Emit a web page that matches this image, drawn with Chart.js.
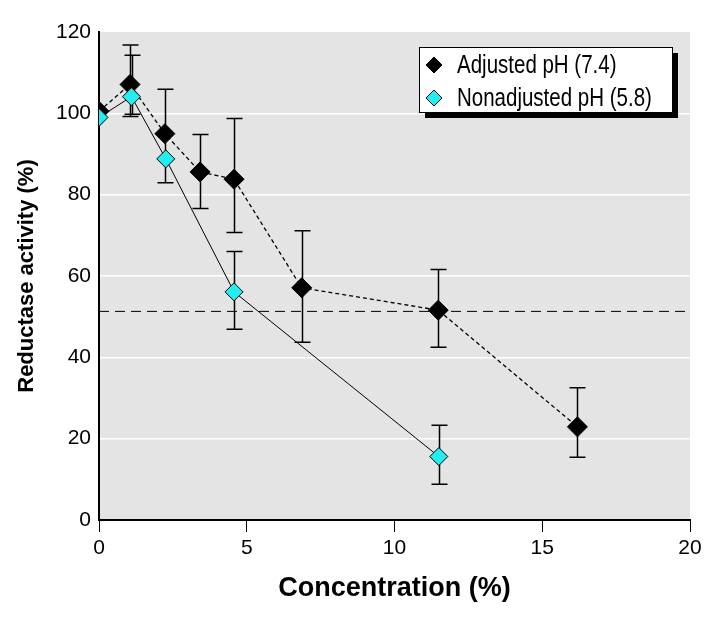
<!DOCTYPE html>
<html>
<head>
<meta charset="utf-8">
<script src="https://cdn.jsdelivr.net/npm/chart.js@4/dist/chart.umd.min.js"></script>
<style>
  html, body { margin: 0; padding: 0; background: #fff; }
  #wrap { width: 712px; height: 619px; }
</style>
</head>
<body>
<div id="wrap"><canvas id="c" width="712" height="619"></canvas></div>
<script>
// Reductase activity vs concentration, two pH conditions

const X_TICKS = [0, 5, 10, 15, 20];
const Y_TICKS = [0, 20, 40, 60, 80, 100, 120];

const adjLabel = 'Adjusted pH (7.4)';
const adjX    = [0, 1.05, 2.23, 3.42, 4.57, 6.86, 11.48, 16.19];
const adjY    = [100.5, 107.1, 95.0, 85.6, 83.8, 57.1, 51.6, 22.9];
const adjHigh = [null, 116.8, 105.9, 94.8, 98.7, 71.1, 61.6, 32.5];
const adjLow  = [null, 99.2, 82.9, 76.6, 70.7, 43.7, 42.5, 15.4];

const nonLabel = 'Nonadjusted pH (5.8)';
const nonX    = [0, 1.1, 2.26, 4.57, 11.5];
const nonY    = [99.0, 104.1, 88.8, 56.1, 15.6];
const nonHigh = [null, 114.3, null, 66.0, 23.3];
const nonLow  = [null, 99.8, null, 46.9, 8.8];

const refLevel = 51.3; // dashed horizontal line

const FONT = "'Liberation Sans', Arial, sans-serif";
const CYAN = '#22eef2';

const toPts = (xs, ys) => xs.map((x, i) => ({ x, y: ys[i] }));

// grey plot background
const bgPlugin = {
  id: 'bg',
  beforeDraw(chart) {
    const { ctx, chartArea: a } = chart;
    ctx.save();
    ctx.fillStyle = '#e4e4e4';
    ctx.fillRect(a.left, a.top, a.right - a.left, a.bottom - a.top);
    ctx.restore();
  },
};

// vertical error bars with caps
const errPlugin = {
  id: 'errbars',
  beforeDatasetsDraw(chart) {
    const { ctx, scales: { x, y } } = chart;
    const sets = [[adjX, adjHigh, adjLow], [nonX, nonHigh, nonLow]];
    ctx.save();
    ctx.strokeStyle = '#000';
    ctx.lineWidth = 1.5;
    sets.forEach(([xs, hi, lo]) => {
      xs.forEach((v, i) => {
        if (hi[i] == null) return;
        const px = Math.round(x.getPixelForValue(v)) + 0.5;
        const pTop = y.getPixelForValue(hi[i]);
        const pBot = y.getPixelForValue(lo[i]);
        ctx.beginPath();
        ctx.moveTo(px, pTop); ctx.lineTo(px, pBot);
        ctx.moveTo(px - 8, pTop); ctx.lineTo(px + 8, pTop);
        ctx.moveTo(px - 8, pBot); ctx.lineTo(px + 8, pBot);
        ctx.stroke();
      });
    });
    ctx.restore();
  },
};

function diamond(ctx, cx, cy, r, fill) {
  ctx.beginPath();
  ctx.moveTo(cx, cy - r); ctx.lineTo(cx + r, cy);
  ctx.lineTo(cx, cy + r); ctx.lineTo(cx - r, cy);
  ctx.closePath();
  ctx.fillStyle = fill;
  ctx.fill();
  ctx.strokeStyle = '#000';
  ctx.lineWidth = 1;
  ctx.stroke();
}

// boxed legend with drop shadow
const legendPlugin = {
  id: 'boxLegend',
  afterDraw(chart) {
    const { ctx } = chart;
    const bx = 419, by = 47, bw = 253, bh = 65;
    ctx.save();
    ctx.fillStyle = '#000';
    ctx.fillRect(bx + 6, by + 6, bw, bh);
    ctx.fillStyle = '#fff';
    ctx.fillRect(bx, by, bw, bh);
    ctx.strokeStyle = '#000';
    ctx.lineWidth = 1;
    ctx.strokeRect(bx + 0.5, by + 0.5, bw, bh);
    const items = [
      { label: adjLabel, fill: '#000' },
      { label: nonLabel, fill: CYAN },
    ];
    items.forEach((it, i) => {
      const cy = by + 18 + i * 33;
      diamond(ctx, bx + 15, cy, 8, it.fill);
      // condensed text, like the original narrow face
      ctx.save();
      ctx.translate(bx + 38, cy + 1);
      ctx.scale(0.82, 1);
      ctx.font = '25px ' + FONT;
      ctx.textBaseline = 'middle';
      ctx.fillStyle = '#000';
      ctx.fillText(it.label, 0, 0);
      ctx.restore();
    });
    ctx.restore();
  },
};

new Chart(document.getElementById('c').getContext('2d'), {
  type: 'scatter',
  data: {
    datasets: [
      {
        label: adjLabel,
        data: toPts(adjX, adjY),
        showLine: true,
        borderColor: '#000',
        borderWidth: 1.3,
        borderDash: [4, 3],
        pointStyle: 'rectRot',
        pointRadius: 10,
        pointBackgroundColor: '#000',
        pointBorderColor: '#000',
        pointBorderWidth: 1,
        order: 1,
      },
      {
        label: nonLabel,
        data: toPts(nonX, nonY),
        showLine: true,
        borderColor: '#000',
        borderWidth: 1,
        pointStyle: 'rectRot',
        pointRadius: 9,
        pointBackgroundColor: CYAN,
        pointBorderColor: '#000',
        pointBorderWidth: 1,
        order: 0,
      },
      {
        label: 'ref',
        data: [{ x: X_TICKS[0], y: refLevel }, { x: X_TICKS[X_TICKS.length - 1], y: refLevel }],
        showLine: true,
        borderColor: '#000',
        borderWidth: 1,
        borderDash: [10, 6],
        pointRadius: 0,
        order: 2,
      },
    ],
  },
  options: {
    responsive: false,
    animation: false,
    events: [],
    layout: { padding: { left: 0, right: 22, top: 32, bottom: 0 } },
    plugins: {
      legend: { display: false },
      tooltip: { enabled: false },
    },
    scales: {
      x: {
        type: 'linear',
        min: X_TICKS[0],
        max: X_TICKS[X_TICKS.length - 1],
        afterBuildTicks: s => { s.ticks = X_TICKS.map(v => ({ value: v })); },
        afterFit: s => { s.height = 99; },
        border: { display: true, color: '#000', width: 2 },
        grid: { drawOnChartArea: false, drawTicks: true, tickLength: 12, color: '#000', lineWidth: 1 },
        ticks: { color: '#000', padding: 4, font: { family: FONT, size: 21 } },
        title: {
          display: true,
          text: 'Concentration (%)',
          color: '#000',
          font: { family: FONT, size: 27, weight: 'bold' },
          padding: { top: 0, bottom: 14 },
        },
      },
      y: {
        type: 'linear',
        min: Y_TICKS[0],
        max: Y_TICKS[Y_TICKS.length - 1],
        afterBuildTicks: s => { s.ticks = Y_TICKS.map(v => ({ value: v })); },
        afterFit: s => { s.width = 99; },
        border: { display: true, color: '#000', width: 2 },
        grid: {
          drawTicks: false,
          color: c => (c.tick && (c.tick.value === 0 || c.tick.value === 120)) ? 'rgba(0,0,0,0)' : '#ffffff',
          lineWidth: 1.5,
        },
        ticks: { color: '#000', padding: 8, font: { family: FONT, size: 21 } },
        title: {
          display: true,
          text: 'Reductase activity (%)',
          color: '#000',
          font: { family: FONT, size: 22, weight: 'bold' },
          padding: { top: 14, bottom: 0 },
        },
      },
    },
  },
  plugins: [bgPlugin, errPlugin, legendPlugin],
});
</script>
</body>
</html>
